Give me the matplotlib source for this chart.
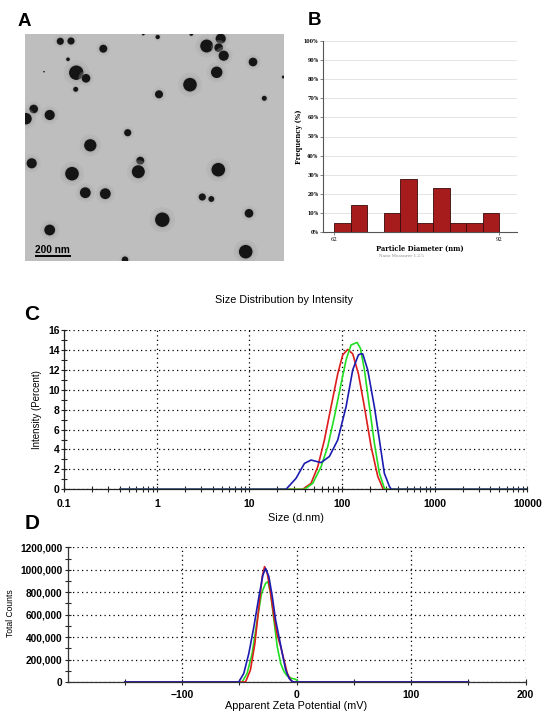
import matplotlib
matplotlib.use("Agg")
import matplotlib.pyplot as plt
from matplotlib.patches import Circle
from matplotlib.ticker import LogLocator, NullFormatter, MultipleLocator

plt.rcParams['font.family'] = ['Liberation Sans', 'DejaVu Sans']

W, H = 550, 718

# ---------------- Panel A: TEM particles (image pixel coords) ----------------
part_x = [35.3, 46, 78.3, 43, 51.3, 61, 50.7, 132.7, 181.7, 195.7, 193.7, 198.7, 228, 191.7,
          165, 134, 239.3, 8.7, 1, 24.7, 102.7, 65.3, 6.7, 47, 115.3, 113.3, 193.3, 60.3,
          80.3, 177.3, 186.3, 137.3, 224, 24.7, 220.7, 100, 258.3, 19, 166.3, 118.3]
part_y = [7.3, 7, 14.7, 25.3, 38.7, 44.3, 55.3, 3, 12, 4.7, 13.7, 21.7, 28, 38.3,
          50.7, 60.3, 64.3, 75, 84.7, 81, 98.7, 111.3, 129.3, 139.7, 126.7, 137.7, 135.7, 158.7,
          159.7, 163, 165, 185.7, 179.3, 196, 217.7, 225.7, 43, 37.7, 0, 0]
part_r = [3.3, 3.3, 3.7, 1.7, 6.7, 4, 2.3, 2, 6, 4.7, 4, 4.7, 4, 5.3,
          6.3, 3.7, 2.3, 4, 5.3, 4.7, 3.3, 5.7, 4.7, 6.3, 3.7, 6, 6.3, 5,
          5, 3.3, 2.7, 6.7, 4, 5, 6.3, 3, 1.3, 0.7, 1.7, 1.3]
scale_bar_label = "200 nm"

# ---------------- Panel B: histogram ----------------
bin_edges = [62, 65, 68, 71, 74, 77, 80, 83, 86, 89, 92]
freq_pct = [5, 14, 0, 10, 28, 5, 23, 5, 5, 10]

# ---------------- Panel C: size distribution ----------------
red_size = [0.4, 37.6, 46.2, 54.6, 64.4, 76, 89.7, 101.6, 115, 130.3, 150, 174, 205.6, 242.7, 275, 295, 10000]
red_int = [0, 0, 0.6, 2.27, 4.95, 8.3, 11.6, 13.5, 14.05, 13.6, 11.6, 8.3, 4.3, 1.3, 0.1, 0, 0]
green_size = [0.4, 39.2, 48.2, 59.3, 70, 82.6, 97.5, 110.4, 125, 145.2, 157.8, 174.2, 197.2, 223.4, 252.9, 286.4, 302, 10000]
green_int = [0, 0, 0.6, 2.27, 4.3, 7.3, 10.6, 13.0, 14.5, 14.75, 14.15, 12.0, 8.3, 4.6, 1.6, 0.1, 0, 0]
blue_size = [0.4, 24.8, 31.8, 39.2, 46.2, 59.3, 72.9, 89.7, 110.4, 130.3, 150, 158.5, 167, 189, 223, 253, 286, 324, 339, 10000]
blue_int = [0, 0, 1.1, 2.6, 2.94, 2.68, 3.3, 4.95, 8.3, 12.0, 13.5, 13.6, 13.6, 12.0, 8.3, 4.95, 1.6, 0.3, 0, 0]
c_xticks = [0.1, 1, 10, 100, 1000, 10000]
c_xlabels = ['0.1', '1', '10', '100', '1000', '10000']
c_yticks = [0, 2, 4, 6, 8, 10, 12, 14, 16]

# ---------------- Panel D: zeta potential ----------------
red_mv = [-150, -44.7, -40.4, -36.5, -33, -30.1, -28.1, -25.7, -22.8, -19.9, -17, -14, -11.1, -8.2, -5.3, -3.2, 150]
red_cnt = [0, 0, 107e3, 345e3, 671e3, 939e3, 1028e3, 968e3, 790e3, 582e3, 419e3, 315e3, 196e3, 77e3, 18e3, 0, 0]
green_mv = [-150, -47.7, -43.3, -38.9, -34.5, -30.7, -27.2, -25.1, -22.8, -19.9, -17, -14, -11.1, -8.2, -4.4, -0.9, 1.5, 150]
green_cnt = [0, 0, 77e3, 255e3, 552e3, 790e3, 879e3, 894e3, 790e3, 552e3, 315e3, 166e3, 92e3, 53e3, 33e3, 24e3, 0, 0]
blue_mv = [-150, -50.6, -46.2, -41.8, -37.4, -33, -29.5, -27.2, -24.3, -21.3, -18.4, -15.5, -12.6, -9.6, -6.7, -3.8, -2, 150]
blue_cnt = [0, 0, 77e3, 255e3, 493e3, 760e3, 953e3, 1013e3, 939e3, 760e3, 552e3, 404e3, 255e3, 107e3, 33e3, 3e3, 0, 0]
d_xticks = [-100, 0, 100, 200]
d_xminor = [-150, -50, 50, 150]
d_yticks = [0, 200000, 400000, 600000, 800000, 1000000, 1200000]
d_ylabels = ['0', '200,000', '400,000', '600,000', '800,000', '1000,000', '1200,000']

RED, GREEN, BLUE = '#dd1c1c', '#22dd22', '#1c1cb0'
GRID = dict(color='black', linestyle=(0, (1, 2.6)), linewidth=0.9)

fig = plt.figure(figsize=(W / 100, H / 100), dpi=100)


def ax_px(l, t, r, b):
    return fig.add_axes([l / W, 1 - b / H, (r - l) / W, (b - t) / H])


def ftext(x, y, s, **kw):
    fig.text(x / W, 1 - y / H, s, ha='center', va='center', **kw)


# ---- A ----
axA = ax_px(25, 34, 284, 261)
axA.set_xlim(0, 259)
axA.set_ylim(227, 0)
axA.set_facecolor('#bebebe')
for s in axA.spines.values():
    s.set_visible(False)
axA.set_xticks([])
axA.set_yticks([])
for x, y, r in zip(part_x, part_y, part_r):
    axA.add_patch(Circle((x, y), r * 1.9, color='#a8a8a8', alpha=0.3, lw=0))
    axA.add_patch(Circle((x, y), r * 1.35, color='#9a9a9a', alpha=0.35, lw=0))
    axA.add_patch(Circle((x, y), r * 1.08, color='#151515', lw=0))
axA.text(27.8, 215.8, scale_bar_label, ha='center', va='center', fontsize=7.3,
         fontweight='bold', color='black')
axA.plot([10, 45.7], [221.7, 221.7], color='black', lw=1.4, solid_capstyle='butt')

# ---- B ----
serif = ['DejaVu Serif']
axB = ax_px(323.3, 40.7, 516.7, 232.3)
axB.bar(bin_edges[:-1], freq_pct, width=[bin_edges[i + 1] - bin_edges[i] for i in range(len(freq_pct))],
        align='edge', color='#a61c1c', edgecolor='#3a0a0a', linewidth=0.6, zorder=3)
axB.set_xlim(60, 95.2)
axB.set_ylim(0, 100)
axB.set_yticks(range(0, 101, 10))
axB.set_yticklabels([f'{v}%' for v in range(0, 101, 10)], fontsize=3.4, family=serif, fontweight='bold')
axB.set_xticks([62, 92])
axB.set_xticklabels(['62', '92'], fontsize=3.8, family=serif)
axB.yaxis.grid(True, color='#e4e4e4', lw=0.7, zorder=0)
axB.set_axisbelow(True)
for s in ['top', 'right']:
    axB.spines[s].set_visible(False)
for s in ['left', 'bottom']:
    axB.spines[s].set_color('#555555')
    axB.spines[s].set_linewidth(0.8)
axB.tick_params(length=2, width=0.5, color='#555555', pad=1.5)
ftext(299, 136.7, 'Frequency (%)', rotation=90, fontsize=4.9, fontweight='bold', family=serif)
ftext(420, 249.3, 'Particle Diameter (nm)', fontsize=4.9, fontweight='bold', family=serif)
ftext(401.7, 255.7, 'Nano Measurer 1.2.5', fontsize=3, color='#888888', family=['DejaVu Serif'])

# ---- C ----
axC = ax_px(64.3, 330, 527.3, 489.3)
axC.set_xscale('log')
axC.plot(red_size, red_int, color=RED, lw=1.2, zorder=3)
axC.plot(green_size, green_int, color=GREEN, lw=1.2, zorder=4)
axC.plot(blue_size, blue_int, color=BLUE, lw=1.2, zorder=5)
axC.set_xlim(0.1, 10000)
axC.set_ylim(0, 16)
axC.set_xticks(c_xticks, c_xlabels)
axC.xaxis.set_minor_locator(LogLocator(base=10, subs=range(2, 10), numticks=20))
axC.xaxis.set_minor_formatter(NullFormatter())
axC.set_yticks(c_yticks)
axC.yaxis.set_minor_locator(MultipleLocator(1))
axC.grid(True, which='major', **GRID)
for s in ['top', 'right']:
    axC.spines[s].set_visible(False)
for s in ['left', 'bottom']:
    axC.spines[s].set_linewidth(0.9)
    axC.spines[s].set_color('#222222')
axC.tick_params(which='both', direction='inout', length=5, width=0.8, color='#222222')
axC.tick_params(axis='y', which='both', pad=1, labelsize=7.5)
axC.tick_params(axis='x', which='both', pad=4.5, labelsize=7.5)
for lab in axC.get_xticklabels() + axC.get_yticklabels():
    lab.set_fontweight('bold')
ftext(283.7, 300, 'Size Distribution by Intensity', fontsize=7.8)
ftext(296, 518.3, 'Size (d.nm)', fontsize=7.8)
ftext(36.7, 410, 'Intensity (Percent)', rotation=90, fontsize=7.0)

# ---- D ----
axD = ax_px(67.7, 547.3, 525.7, 682)
axD.plot(green_mv, green_cnt, color=GREEN, lw=1.2, zorder=3)
axD.plot(red_mv, red_cnt, color=RED, lw=1.2, zorder=4)
axD.plot(blue_mv, blue_cnt, color=BLUE, lw=1.2, zorder=5)
axD.set_xlim(-200, 200)
axD.set_ylim(0, 1200000)
axD.set_xticks(d_xticks, [str(v) if v >= 0 else '\u2212' + str(-v) for v in d_xticks])
axD.set_xticks(d_xminor, minor=True)
axD.set_yticks(d_yticks, d_ylabels)
axD.yaxis.set_minor_locator(MultipleLocator(100000))
axD.grid(True, which='major', **GRID)
for s in ['top', 'right']:
    axD.spines[s].set_visible(False)
for s in ['left', 'bottom']:
    axD.spines[s].set_linewidth(0.9)
    axD.spines[s].set_color('#333333')
axD.tick_params(which='both', direction='inout', length=5, width=0.8, color='#222222')
axD.tick_params(axis='y', which='both', pad=1.5, labelsize=7.3)
axD.tick_params(axis='x', which='both', pad=3, labelsize=7.5)
for lab in axD.get_xticklabels() + axD.get_yticklabels():
    lab.set_fontweight('bold')
ftext(296, 706, 'Apparent Zeta Potential (mV)', fontsize=7.8)
ftext(11, 613, 'Total Counts', rotation=90, fontsize=6.2)

# ---- panel letters ----
ftext(24.2, 21.7, 'A', fontsize=13.5, fontweight='bold')
ftext(314.5, 20.8, 'B', fontsize=13.5, fontweight='bold')
ftext(32, 315, 'C', fontsize=15, fontweight='bold')
ftext(32.5, 523.3, 'D', fontsize=15, fontweight='bold')

fig.savefig('out.png', dpi=100)
